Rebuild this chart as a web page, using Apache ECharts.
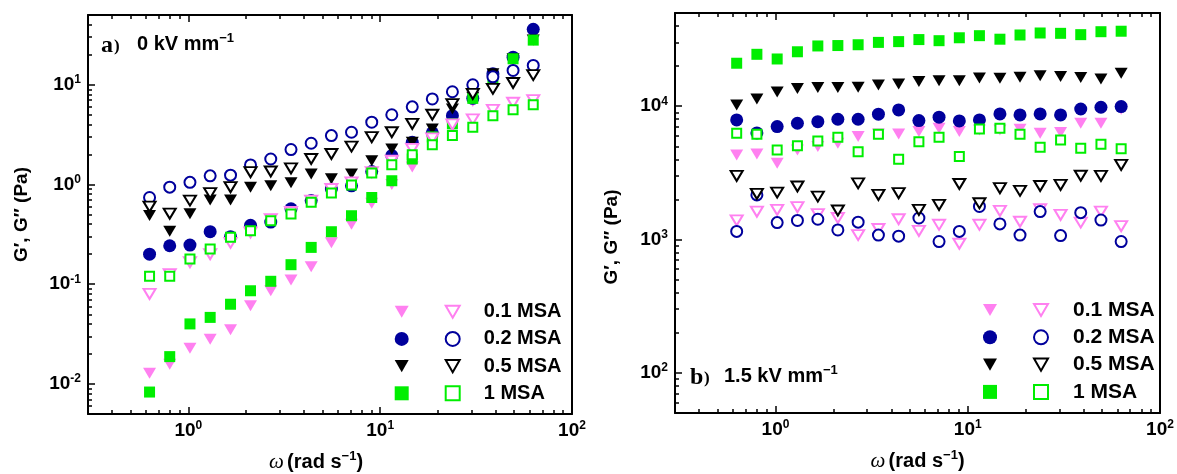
<!DOCTYPE html>
<html><head><meta charset="utf-8">
<script src="https://cdn.jsdelivr.net/npm/echarts@6/dist/echarts.min.js"></script>
<style>html,body{margin:0;padding:0;background:#fff}#c{width:1177px;height:474px}</style>
</head><body><div id="c"></div>
<script>
// angular frequency (rad/s)
const omega = [0.628, 0.800, 1.02, 1.30, 1.66, 2.11, 2.69, 3.43, 4.37, 5.57, 7.09, 9.04, 11.5, 14.7, 18.7, 23.8, 30.4, 38.7, 49.3, 62.8];
const concLabels = ['0.1 MSA', '0.2 MSA', '0.5 MSA', '1 MSA'];
const xTickExps = [0, 1, 2];
const yTickExpsA = [-2, -1, 0, 1];
const yTickExpsB = [2, 3, 4];

// Panel a) 0 kV/mm : G' (filled) and G'' (open)
const a_G1_01 = [0.0128, 0.0158, 0.0228, 0.028, 0.035, 0.061, 0.086, 0.11, 0.15, 0.26, 0.40, 0.65, 1.0, 1.5, 2.7, 3.8, 6.8, 11, 17.5, 28];
const a_G2_01 = [0.080, 0.126, 0.166, 0.20, 0.26, 0.33, 0.45, 0.53, 0.69, 0.90, 1.05, 1.33, 1.73, 2.27, 2.9, 4.0, 4.5, 5.6, 6.6, 7.0];
const a_G1_02 = [0.20, 0.243, 0.247, 0.336, 0.30, 0.39, 0.42, 0.57, 0.69, 0.90, 0.97, 1.35, 1.95, 2.65, 3.3, 4.9, 7.3, 12.9, 18.9, 36];
const a_G2_02 = [0.74, 0.94, 1.05, 1.22, 1.24, 1.57, 1.80, 2.24, 2.59, 3.09, 3.34, 4.21, 5.0, 6.0, 7.2, 8.5, 10.0, 12.0, 13.9, 15.6];
const a_G1_05 = [0.49, 0.34, 0.51, 0.70, 0.70, 0.94, 0.97, 1.04, 1.27, 1.14, 1.27, 1.73, 2.27, 2.65, 3.6, 5.7, 7.5, 12.9, 18.2, 28];
const a_G2_05 = [0.60, 0.51, 0.69, 0.82, 0.94, 1.33, 1.35, 1.45, 1.80, 2.02, 2.40, 2.98, 3.34, 4.05, 5.0, 6.4, 8.1, 9.1, 10.4, 12.5];
const a_G1_1 = [0.0083, 0.0188, 0.040, 0.0465, 0.063, 0.086, 0.107, 0.157, 0.234, 0.336, 0.486, 0.74, 1.09, 1.8, 3.0, 4.05, 7.3, 11.5, 18.2, 28];
const a_G2_1 = [0.12, 0.12, 0.179, 0.225, 0.295, 0.344, 0.433, 0.505, 0.662, 0.82, 0.99, 1.30, 1.58, 1.99, 2.5, 3.1, 3.75, 4.9, 5.6, 6.3];

// Panel b) 1.5 kV/mm
const b_G1_01 = [4310, 4380, 3730, 4700, 4980, 5280, 5920, 6200, 6200, 6450, 6840, 6450, 6640, 6640, 6720, 6270, 6340, 7450, 7450, 9500];
const b_G2_01 = [1390, 1620, 1670, 1750, 1550, 1450, 1080, 1200, 1420, 1160, 1290, 930, 1290, 1640, 1360, 1690, 1530, 1340, 1620, 1260];
const b_G1_02 = [7890, 6300, 7030, 7450, 7660, 7980, 7980, 8710, 9380, 7800, 8270, 7750, 7890, 8750, 8600, 8750, 8600, 9530, 9820, 9930];
const b_G2_02 = [1150, 2160, 1340, 1390, 1420, 1180, 1350, 1080, 1060, 1450, 966, 1150, 1770, 1310, 1080, 1620, 1070, 1590, 1400, 966];
const b_G1_05 = [10200, 11300, 12800, 13600, 13800, 13800, 13900, 14400, 14700, 15300, 15500, 15500, 16300, 16200, 16500, 16900, 16700, 16400, 16000, 17700];
const b_G2_05 = [3000, 2200, 2250, 2500, 2100, 1650, 2640, 2160, 2230, 1670, 1820, 2610, 1870, 2430, 2320, 2520, 2570, 3010, 3000, 3630];
const b_G1_1 = [21000, 24500, 22600, 25600, 28300, 28500, 28900, 30100, 30500, 31600, 31000, 32600, 33800, 31800, 34200, 35400, 35200, 34400, 36200, 36500];
const b_G2_1 = [6270, 6160, 4700, 5040, 5490, 5850, 4560, 6160, 4000, 5420, 5850, 4190, 6750, 6840, 6160, 4920, 5580, 4840, 5190, 4790];

const colors = ['#FF80F0', '#00009C', '#000000', '#00EE00'];
const TRI = 'path://M0,0L10,0L5,8.66Z';
const symbols = [TRI, 'circle', TRI, 'rect'];
const fillSizes = [[13, 11], 13, [13, 11], 11];
const openSizes = [[12, 10], 11, [12, 10], 9];

const panels = [
  {key: 'a', G1: [a_G1_01, a_G1_02, a_G1_05, a_G1_1], G2: [a_G2_01, a_G2_02, a_G2_05, a_G2_1]},
  {key: 'b', G1: [b_G1_01, b_G1_02, b_G1_05, b_G1_1], G2: [b_G2_01, b_G2_02, b_G2_05, b_G2_1]}
];

const FONT = 'Liberation Sans';
const NARROW = "'Liberation Sans Narrow', 'Liberation Sans'";
const black = '#000';

function minorLogs(lo, hi) {
  const out = [];
  for (let d = Math.floor(lo) - 1; d <= Math.ceil(hi); d++) {
    for (let k = 2; k <= 9; k++) {
      const v = d + Math.log10(k);
      if (v > lo + 1e-9 && v < hi - 1e-9) out.push(v);
    }
  }
  return out;
}

const labelRich = (fam, size) => ({
  b: {fontFamily: fam, fontWeight: 'bold', fontSize: size, color: black},
  s: {fontFamily: fam, fontWeight: 'bold', fontSize: 12, color: black, padding: [0, 0, 10, 0]}
});
const expFmt = v => '{b|10}{s|' + Math.round(v) + '}';

const grids = [
  {left: 88, top: 15, width: 484, height: 399, outerBoundsMode: 'none'},
  {left: 675, top: 13, width: 485, height: 400, outerBoundsMode: 'none'}
];
const xRange = [0.3, 100];
const yRanges = [[0.005, 50], [50, 50000]];
const yMajors = [yTickExpsA, yTickExpsB];
const yNameGap = [57, 54];
const yNamePad = [[0, 0, 0, 0], [0, 48, 0, 0]];
const xNamePad = [[0, 28, 0, 0], [0, 0, 0, 0]];

const xAxes = [], yAxes = [];
const lineStyle = {color: black, width: 2};
const tickStyle = {color: black, width: 1.5};
const aLine = {show: true, onZero: false, lineStyle};
const noLine = {show: false, onZero: false};
grids.forEach((g, gi) => {
  const xl = Math.log10(xRange[0]), xh = Math.log10(xRange[1]);
  const yl = Math.log10(yRanges[gi][0]), yh = Math.log10(yRanges[gi][1]);
  // data axes (log)
  xAxes.push({type: 'log', gridIndex: gi, min: xRange[0], max: xRange[1], show: false, axisLine: noLine});
  yAxes.push({type: 'log', gridIndex: gi, min: yRanges[gi][0], max: yRanges[gi][1], show: false, axisLine: noLine});
  // bottom major
  xAxes.push({
    type: 'value', gridIndex: gi, position: 'bottom', min: xl, max: xh,
    axisLine: aLine, splitLine: {show: false},
    axisTick: {show: true, inside: true, length: 7, lineStyle: tickStyle, customValues: xTickExps},
    axisLabel: {show: true, customValues: xTickExps, formatter: expFmt, rich: labelRich(NARROW, 19), margin: 6},
    name: '{w|ω} {t|(rad s}{s|−1}{t|)}', nameLocation: 'middle', nameGap: 36, nameMoveOverlap: false,
    nameTextStyle: {
      padding: xNamePad[gi],
      rich: {
        w: {fontFamily: 'Liberation Serif', fontStyle: 'italic', fontSize: 21, color: black},
        t: {fontFamily: NARROW, fontWeight: 'bold', fontSize: 20, color: black},
        s: {fontFamily: NARROW, fontWeight: 'bold', fontSize: 13, color: black, padding: [0, 0, 11, 0]}
      }
    }
  });
  // bottom minor
  xAxes.push({
    type: 'value', gridIndex: gi, position: 'bottom', min: xl, max: xh,
    axisLine: noLine, splitLine: {show: false}, axisLabel: {show: false},
    axisTick: {show: true, inside: true, length: 4, lineStyle: tickStyle, customValues: minorLogs(xl, xh)}
  });
  // top major
  xAxes.push({
    type: 'value', gridIndex: gi, position: 'top', min: xl, max: xh,
    axisLine: aLine, splitLine: {show: false}, axisLabel: {show: false},
    axisTick: {show: true, inside: true, length: 7, lineStyle: tickStyle, customValues: xTickExps}
  });
  // top minor
  xAxes.push({
    type: 'value', gridIndex: gi, position: 'top', min: xl, max: xh,
    axisLine: noLine, splitLine: {show: false}, axisLabel: {show: false},
    axisTick: {show: true, inside: true, length: 4, lineStyle: tickStyle, customValues: minorLogs(xl, xh)}
  });
  // left major
  yAxes.push({
    type: 'value', gridIndex: gi, position: 'left', min: yl, max: yh,
    axisLine: aLine, splitLine: {show: false},
    axisTick: {show: true, inside: true, length: 7, lineStyle: tickStyle, customValues: yMajors[gi]},
    axisLabel: {show: true, customValues: yMajors[gi], formatter: expFmt, rich: labelRich(FONT, 19), margin: 7},
    name: 'G′, G′′ (Pa)', nameLocation: 'middle', nameGap: yNameGap[gi], nameMoveOverlap: false,
    nameTextStyle: {fontFamily: FONT, fontWeight: 'bold', fontSize: 19, color: black, padding: yNamePad[gi]}
  });
  // left minor
  yAxes.push({
    type: 'value', gridIndex: gi, position: 'left', min: yl, max: yh,
    axisLine: noLine, splitLine: {show: false}, axisLabel: {show: false},
    axisTick: {show: true, inside: true, length: 4, lineStyle: tickStyle, customValues: minorLogs(yl, yh)}
  });
  // right border
  yAxes.push({
    type: 'value', gridIndex: gi, position: 'right', min: yl, max: yh,
    axisLine: aLine, splitLine: {show: false}, axisLabel: {show: false}, axisTick: {show: false}
  });
});

const series = [];
const legends = [];
const legendGeo = [
  {fillLeft: 394.7, openLeft: 444.7, top: 301.7, fs: 20, pad: 19, gap: 7.2},
  {fillLeft: 983, openLeft: 1033, top: 299.5, fs: 21, pad: 20, gap: 6.3}
];
panels.forEach((p, pi) => {
  const xi = pi * 5, yi = pi * 4;
  const fillNames = [], openNames = [];
  p.G1.forEach((arr, c) => {
    const nm = p.key + '|f|' + concLabels[c];
    fillNames.push(nm);
    series.push({
      type: 'scatter', name: nm, xAxisIndex: xi, yAxisIndex: yi,
      symbol: symbols[c], symbolSize: fillSizes[c], symbolKeepAspect: false,
      itemStyle: {color: colors[c], borderWidth: 0, opacity: 1},
      emphasis: {disabled: true},
      data: omega.map((w, i) => [w, arr[i]])
    });
  });
  p.G2.forEach((arr, c) => {
    const nm = p.key + '|o|' + concLabels[c];
    openNames.push(nm);
    series.push({
      type: 'scatter', name: nm, xAxisIndex: xi, yAxisIndex: yi,
      symbol: symbols[c], symbolSize: openSizes[c], symbolKeepAspect: false,
      itemStyle: {color: '#fff', borderColor: colors[c], borderWidth: 2, opacity: 1},
      emphasis: {disabled: true},
      data: omega.map((w, i) => [w, arr[i]])
    });
  });
  const g = legendGeo[pi];
  const ts = {fontFamily: FONT, fontWeight: 'bold', fontSize: g.fs, lineHeight: 20, color: black, padding: [0, 0, 0, g.pad]};
  legends.push({
    orient: 'vertical', left: g.fillLeft, top: g.top, padding: 0, itemWidth: 14, itemHeight: 14, itemGap: g.gap,
    selectedMode: false, data: fillNames, formatter: () => ' ', textStyle: ts
  });
  legends.push({
    orient: 'vertical', left: g.openLeft, top: g.top, padding: 0, itemWidth: 14, itemHeight: 14, itemGap: g.gap,
    selectedMode: false, data: openNames, formatter: n => n.split('|')[2], textStyle: ts
  });
});

const annRich = {
  t: {fontFamily: FONT, fontWeight: 'bold', fontSize: 20, color: black},
  s: {fontFamily: FONT, fontWeight: 'bold', fontSize: 13, color: black, padding: [0, 0, 11, 0]}
};
const graphic = [
  {type: 'text', left: 101, top: 34, style: {text: 'a', font: 'bold 24px "Liberation Serif"', fill: black}},
  {type: 'text', left: 114, top: 38, style: {text: ')', font: 'bold 17px "Liberation Serif"', fill: black}},
  {type: 'text', left: 137, top: 32, style: {text: '{t|0 kV mm}{s|−1}', rich: annRich}},
  {type: 'text', left: 690, top: 366, style: {text: 'b', font: 'bold 24px "Liberation Serif"', fill: black}},
  {type: 'text', left: 704, top: 370, style: {text: ')', font: 'bold 17px "Liberation Serif"', fill: black}},
  {type: 'text', left: 724, top: 364, style: {text: '{t|1.5 kV mm}{s|−1}', rich: annRich}}
];

const chart = echarts.init(document.getElementById('c'), null, {renderer: 'canvas'});
chart.setOption({
  animation: false,
  backgroundColor: '#fff',
  grid: grids,
  xAxis: xAxes,
  yAxis: yAxes,
  legend: legends,
  series: series,
  graphic: graphic
});
</script></body></html>
